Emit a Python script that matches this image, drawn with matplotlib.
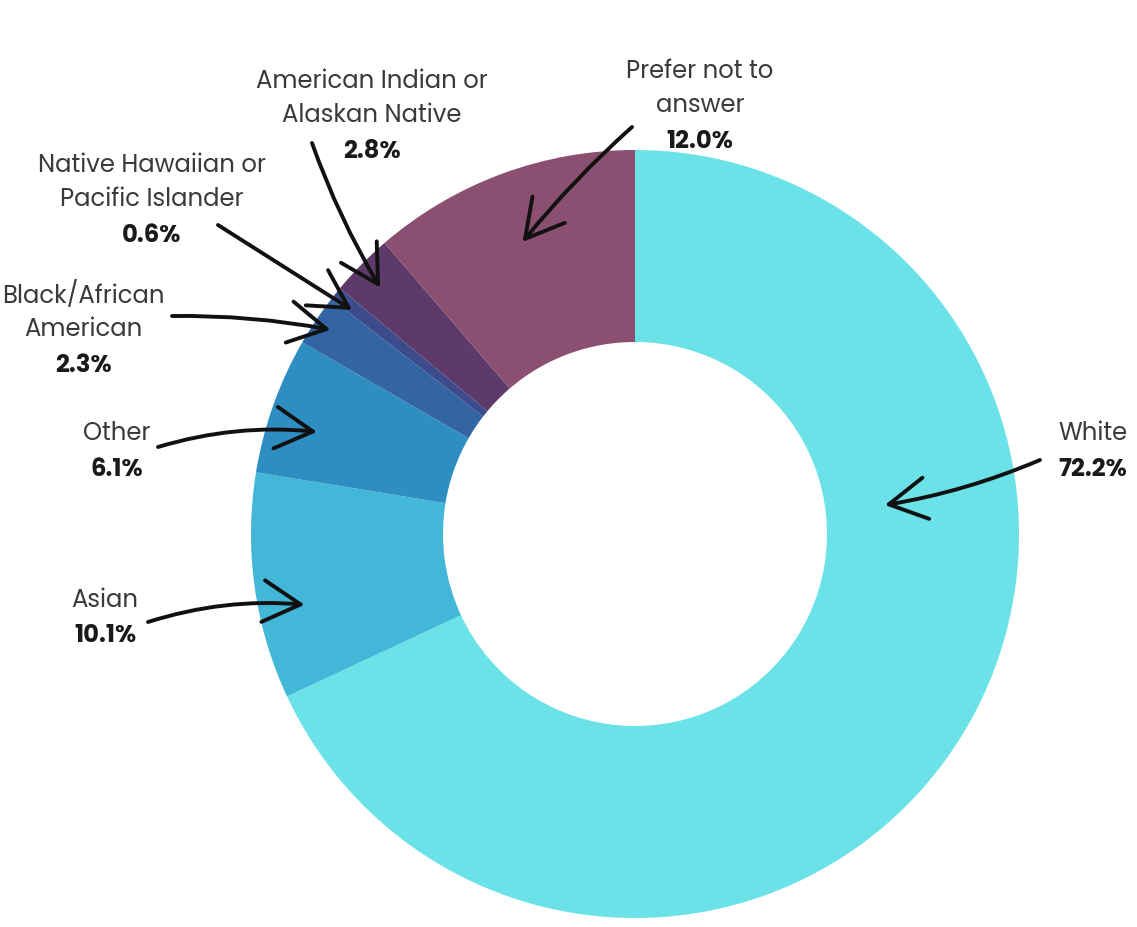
import numpy as np
import matplotlib.pyplot as plt

# donut data, clockwise from 12 o'clock
labels = ["White", "Asian", "Other", "Black/African\nAmerican",
          "Native Hawaiian or\nPacific Islander", "American Indian or\nAlaskan Native",
          "Prefer not to\nanswer"]
values = [72.2, 10.1, 6.1, 2.3, 0.6, 2.8, 12.0]
pct_text = ["72.2%", "10.1%", "6.1%", "2.3%", "0.6%", "2.8%", "12.0%"]
colors = ["#6be2e8", "#43b7d7", "#2e8ec2", "#3364a4", "#3b4b8c", "#5e3a6a", "#8b5071"]

W, H = 1137, 927
CX, CY, R = 635, 534, 384

fig = plt.figure(figsize=(W / 100, H / 100), dpi=100)
ax = fig.add_axes([0, 0, 1, 1])

wedges, _ = ax.pie(values, colors=colors, startangle=90, counterclock=False,
                   radius=1.0, wedgeprops=dict(width=0.5, linewidth=0))

# pie() resets the limits, so set them afterwards
ax.set_xlim(-CX / R, (W - CX) / R)
ax.set_ylim(-(H - CY) / R, CY / R)
ax.set_aspect("equal")
ax.axis("off")

def px(x, y):
    return ((x - CX) / R, (CY - y) / R)

# label layout: text centre x (px), first-line y (px), arrow tail (px),
# arrow head radius, angle offset from wedge middle, curvature
layout = [
    (1093, 434, (1040, 460), 0.655, 39.1, -0.06),
    (105, 601, (148, 622), 0.88, 4.2, -0.1),
    (117, 434, (158, 447), 0.87, 1.8, -0.1),
    (83, 296, (172, 316), 0.955, 0.0, -0.05),
    (152, 166, (218, 225), 0.94, 0.4, 0.0),
    (372, 82, (312, 143), 0.923, 0.5, 0.05),
    (700, 72, (632, 127), 0.815, 0.7, 0.04),
]

font = ["Poppins", "Open Sans", "DejaVu Sans"]
line_h = 34
fs = 17.5
for w, lab, pct, (tx, ty, tail, hr, off, rad) in zip(wedges, labels, pct_text, layout):
    lines = lab.split("\n")
    for i, line in enumerate(lines):
        ax.text(*px(tx, ty + i * line_h), line, ha="center", va="center",
                fontsize=fs, color="#3a3a3a", family=font)
    ax.text(*px(tx, ty + len(lines) * line_h + 2), pct, ha="center", va="center",
            fontsize=fs, color="#1a1a1a", family=font, fontweight="bold")
    ang = np.deg2rad((w.theta1 + w.theta2) / 2 + off)
    head = (hr * np.cos(ang), hr * np.sin(ang))
    ax.annotate("", xy=head, xytext=px(*tail),
                arrowprops=dict(arrowstyle="->,head_length=0.9,head_width=0.5",
                                mutation_scale=30, lw=2.8, color="#111111",
                                connectionstyle=f"arc3,rad={rad}",
                                shrinkA=0, shrinkB=0))

fig.savefig("out.png", dpi=100, facecolor="white")
